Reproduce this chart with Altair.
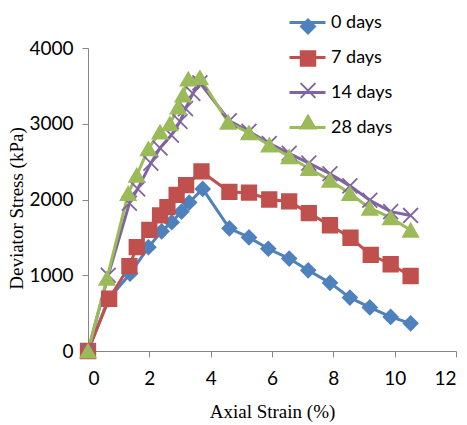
import altair as alt
import pandas as pd

series_names = ["0 days", "7 days", "14 days", "28 days"]
series_colors = ["#4F81BD", "#C0504D", "#8064A2", "#9BBB59"]
series_shapes = ["diamond", "square", "M-1,-1L1,1M-1,1L1,-1", "triangle-up"]
series_sizes = [200, 230, 190, 250]

x0 = [0, 0.66, 1.37, 1.97, 2.4, 2.73, 3.05, 3.3, 3.74, 4.61, 5.25, 5.88, 6.56, 7.18, 7.89, 8.54, 9.19, 9.87, 10.52]
y0 = [0, 680, 1020, 1370, 1580, 1700, 1840, 1960, 2140, 1620, 1500, 1350, 1220, 1065, 900, 705, 575, 450, 365]

x7 = [0, 0.69, 1.35, 1.59, 2.0, 2.35, 2.59, 2.89, 3.2, 3.7, 4.61, 5.25, 5.91, 6.56, 7.2, 7.89, 8.56, 9.22, 9.87, 10.52]
y7 = [0, 690, 1120, 1370, 1600, 1790, 1900, 2060, 2190, 2370, 2100, 2090, 2000, 1975, 1820, 1660, 1495, 1270, 1145, 990]

x14 = [0, 0.66, 1.35, 1.62, 2.05, 2.35, 2.72, 3.0, 3.18, 3.42, 3.65, 4.61, 5.25, 5.91, 6.56, 7.2, 7.89, 8.54, 9.19, 9.87, 10.52]
y14 = [0, 1000, 1950, 2140, 2480, 2680, 2850, 3030, 3200, 3400, 3540, 3040, 2900, 2740, 2610, 2480, 2340, 2180, 1990, 1840, 1790]

x28 = [0, 0.62, 1.31, 1.59, 1.97, 2.35, 2.67, 2.94, 3.1, 3.27, 3.65, 4.57, 5.25, 5.91, 6.56, 7.2, 7.89, 8.54, 9.19, 9.87, 10.52]
y28 = [0, 960, 2080, 2320, 2670, 2890, 3000, 3220, 3380, 3590, 3610, 3020, 2880, 2720, 2565, 2410, 2255, 2080, 1885, 1760, 1595]

x_ticks = [0, 2, 4, 6, 8, 10, 12]
y_ticks = [0, 500, 1000, 1500, 2000, 2500, 3000, 3500, 4000]

rows = []
for name, xs, ys in zip(series_names, [x0, x7, x14, x28], [y0, y7, y14, y28]):
    for i, (xv, yv) in enumerate(zip(xs, ys)):
        rows.append({"series": name, "series_line": name, "strain": xv, "stress": yv, "order": i})
df = pd.DataFrame(rows)

x_enc = alt.X("strain:Q", scale=alt.Scale(domain=[0, 12], nice=False),
              axis=alt.Axis(values=x_ticks, title="Axial Strain (%)", format="d",
                            titleX=184, titleY=60, titleBaseline="middle",
                            labelPadding=12))
y_enc = alt.Y("stress:Q", scale=alt.Scale(domain=[0, 4000], nice=False),
              axis=alt.Axis(values=y_ticks, title="Deviator Stress (kPa)", format="d",
                            titleX=-72, titleY=160, titleAngle=-90,
                            titleAlign="center", titleBaseline="middle",
                            labelPadding=9))

lines = alt.Chart(df).mark_line(strokeWidth=3).encode(
    x=x_enc,
    y=y_enc,
    order="order:Q",
    color=alt.Color("series_line:N",
                    scale=alt.Scale(range=series_colors),
                    sort=series_names,
                    legend=alt.Legend(orient="none", legendX=200, legendY=-45,
                                      title=None, symbolType="stroke",
                                      symbolSize=1296, symbolStrokeWidth=3,
                                      labelFont="Lato", labelFontSize=18,
                                      labelColor="black", labelOffset=4,
                                      rowPadding=6, padding=0)),
)

pt_legend = alt.Legend(orient="none", legendX=211, legendY=-30, title=None,
                       labelExpr="''", labelFontSize=17, rowPadding=9,
                       padding=0, symbolStrokeWidth=2)

points = alt.Chart(df).mark_point(opacity=1, strokeWidth=1.8).encode(
    x="strain:Q",
    y="stress:Q",
    fill=alt.Fill("series:N", scale=alt.Scale(domain=series_names, range=series_colors),
                  sort=series_names, legend=pt_legend),
    stroke=alt.Stroke("series:N", scale=alt.Scale(domain=series_names, range=series_colors),
                      sort=series_names, legend=pt_legend),
    shape=alt.Shape("series:N", scale=alt.Scale(domain=series_names, range=series_shapes),
                    sort=series_names, legend=pt_legend),
    size=alt.Size("series:N", scale=alt.Scale(domain=series_names, range=series_sizes),
                  sort=series_names, legend=pt_legend),
)

chart = alt.layer(lines, points).resolve_scale(color="independent").properties(
    width=368, height=303,
    autosize=alt.AutoSizeParams(type="none"),
    padding={"left": 88, "top": 48, "right": 11, "bottom": 74},
).configure_view(stroke=None).configure_axis(
    grid=False,
    domainColor="#868686",
    tickColor="#868686",
    tickSize=6,
    labelFont="Lato",
    labelFontSize=19,
    labelColor="black",
    titleFont="Liberation Serif",
    titleFontSize=19,
    titleFontWeight="normal",
    titleColor="black",
)

chart.save("out.html", embed_options={"renderer": "svg", "actions": False})
